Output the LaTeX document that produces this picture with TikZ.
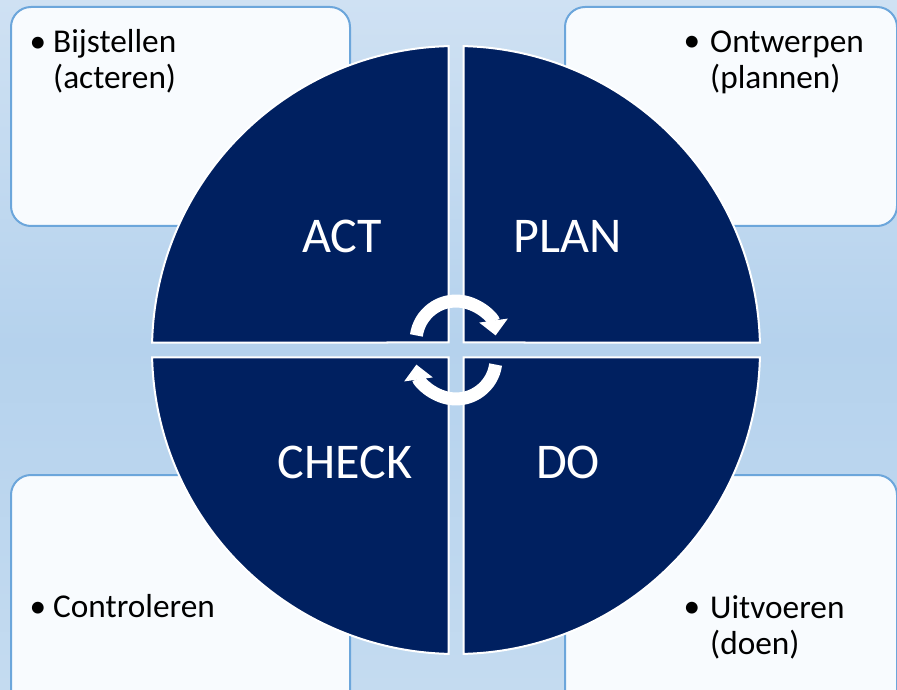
\documentclass[tikz,border=0pt]{standalone}
\usepackage{fontspec}
\setmainfont{Carlito}
\usetikzlibrary{arrows.meta}
\definecolor{navy}{HTML}{002060}
\definecolor{bgtop}{HTML}{CFE1F3}
\definecolor{bgmid}{HTML}{B5D2ED}
\definecolor{bgbot}{HTML}{C4DBF0}
\definecolor{boxfill}{HTML}{F8FBFE}
\definecolor{boxline}{HTML}{6CA6DB}
\begin{document}
\begin{tikzpicture}[x=1pt,y=1pt,
  infobox/.style={draw=boxline, line width=2pt, fill=boxfill, rounded corners=20pt, anchor=north west, inner sep=0pt},
  quad/.style={fill=navy, draw=white, line width=2pt},
  qlabel/.style={text=white, font=\fontsize{50}{60}\selectfont, anchor=base, inner sep=0pt},
  btext/.style={font=\fontsize{33.3}{36}\selectfont, anchor=base west, align=left, inner sep=0pt},
  bdot/.style={font=\fontsize{33.3}{36}\selectfont, anchor=base, inner sep=0pt},
  cyc/.style={draw=white, line width=13pt, line cap=butt, -{Triangle[length=15pt,width=28pt]}}
]
\useasboundingbox (0,0) rectangle (897,689);
\clip (0,0) rectangle (897,689);
\shade[top color=bgtop, bottom color=bgbot, middle color=bgmid] (0,0) rectangle (897,689);

% corner boxes
\node[infobox, minimum width=339pt, minimum height=219pt] (tlbox) at (10,683) {};
\node[infobox, minimum width=332pt, minimum height=219pt] (trbox) at (564,683) {};
\node[infobox, minimum width=339pt, minimum height=240pt] (blbox) at (10,215) {};
\node[infobox, minimum width=332pt, minimum height=240pt] (brbox) at (564,215) {};

% box texts (base anchor = baseline of last line)
\node[bdot] (tldot) at (38,636) {•};
\node[btext] (tltext) at (53,600) {Bijstellen\\(acteren)};
\node[bdot] (trdot) at (692,637) {•};
\node[btext] (trtext) at (710,600) {Ontwerpen\\(plannen)};
\node[bdot] (bldot) at (38,72) {•};
\node[btext] (bltext) at (53,72) {Controleren};
\node[bdot] (brdot) at (692,72) {•};
\node[btext] (brtext) at (710,35) {Uitvoeren\\(doen)};

% quadrants
\path[quad] (448.5,346.5) -- ([shift={(178.586:304)}]456,339) arc[start angle=178.586, end angle=91.414, radius=304] -- cycle;
\path[quad] (463.5,346.5) -- ([shift={(88.586:304)}]456,339) arc[start angle=88.586, end angle=1.414, radius=304] -- cycle;
\path[quad] (463.5,331.5) -- ([shift={(-1.414:304)}]456,339) arc[start angle=-1.414, end angle=-88.586, radius=304] -- cycle;
\path[quad] (448.5,331.5) -- ([shift={(268.586:304)}]456,339) arc[start angle=268.586, end angle=181.414, radius=304] -- cycle;

% quadrant labels
\node[qlabel] (act) at (342,436) {ACT};
\node[qlabel] (plan) at (568,436) {PLAN};
\node[qlabel] (check) at (345,211) {CHECK};
\node[qlabel] (do) at (568,211) {DO};

% cycle arrows
\coordinate (uc) at (456,348);
\coordinate (lc) at (456,330);
\draw[cyc] ([shift={(172:40)}]uc) arc[start angle=172, end angle=8, radius=40];
\draw[cyc] ([shift={(352:40)}]lc) arc[start angle=352, end angle=188, radius=40];
\end{tikzpicture}
\end{document}
